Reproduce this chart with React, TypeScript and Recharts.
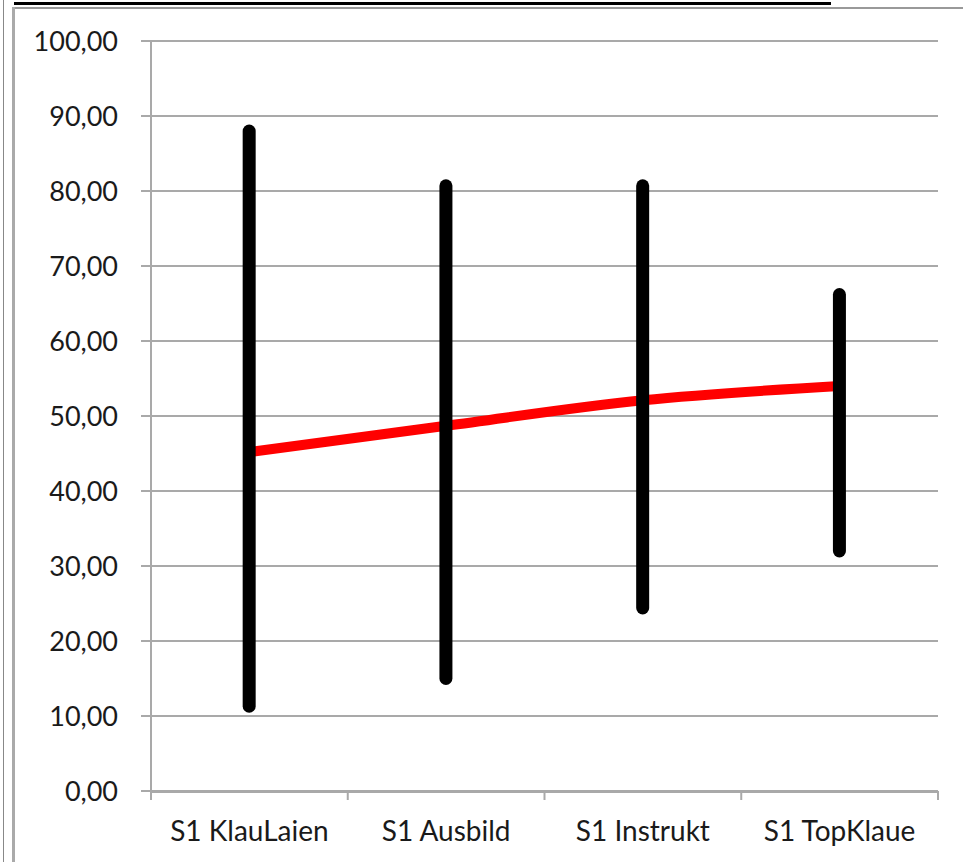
import React from 'react';
import { ComposedChart, Bar, Line, XAxis, YAxis, CartesianGrid } from 'recharts';

const CATEGORIES = ['S1 KlauLaien', 'S1 Ausbild', 'S1 Instrukt', 'S1 TopKlaue'];
const LOW = [11.3, 15.0, 24.4, 32.0];
const HIGH = [88.0, 80.7, 80.7, 66.2];
const MEAN = [45.2, 48.7, 52.1, 54.0];
const Y_TICKS = [0, 10, 20, 30, 40, 50, 60, 70, 80, 90, 100];
const BOUNDARY_TICKS = [0, 1, 2, 3, 4];

const data = CATEGORIES.map((name, i) => ({
  name,
  pos: i + 0.5,
  range: [LOW[i], HIGH[i]],
  mean: MEAN[i],
}));

const GREY = '#a9a9a9';
const FONT = 'Lato, "Open Sans", sans-serif';

const HighLow = (props: any) => {
  const { x, y, width, height } = props;
  const cx = x + width / 2;
  return (
    <line x1={cx} x2={cx} y1={y} y2={y + height} stroke="#000" strokeWidth={13} strokeLinecap="round" />
  );
};

const fmt = (v: number) => v.toFixed(2).replace('.', ',');

export default function App() {
  return (
    <div style={{ position: 'absolute', left: 0, top: 0, width: 963, height: 862, background: '#fff', fontFamily: FONT }}>
      {/* frame lines from the screenshot */}
      <div style={{ position: 'absolute', left: 14, top: 2, width: 817, height: 3, background: '#000' }} />
      <div style={{ position: 'absolute', left: 14, top: 7, width: 949, height: 2, background: '#999' }} />
      <div style={{ position: 'absolute', left: 3, top: 0, width: 1, height: 862, background: '#888' }} />
      <div style={{ position: 'absolute', left: 12, top: 7, width: 3, height: 855, background: '#aaa' }} />
      <ComposedChart
        width={963}
        height={862}
        data={data}
        margin={{ top: 41, right: 25, bottom: 10, left: 0 }}
        style={{ position: 'absolute', left: 0, top: 0 }}
      >
        <CartesianGrid vertical={false} stroke={GREY} strokeWidth={2} xAxisId="cat" />
        <XAxis
          xAxisId="b"
          type="number"
          dataKey="pos"
          domain={[0, 4]}
          ticks={BOUNDARY_TICKS}
          tick={() => <g />}
          tickSize={9}
          height={1}
          axisLine={false}
          stroke={GREY}
          tickLine={{ stroke: GREY, strokeWidth: 2 }}
        />
        <XAxis
          xAxisId="cat"
          dataKey="name"
          height={60}
          tickLine={false}
          tickSize={0}
          tickMargin={29}
          axisLine={{ stroke: GREY, strokeWidth: 2 }}
          tick={{ fill: '#1a1a1a', fontSize: 28, fontFamily: FONT }}
        />
        <YAxis
          width={151}
          domain={[0, 100]}
          ticks={Y_TICKS}
          tickFormatter={fmt}
          tickSize={10}
          tickMargin={23}
          axisLine={{ stroke: GREY, strokeWidth: 2 }}
          tickLine={{ stroke: GREY, strokeWidth: 2 }}
          tick={{ fill: '#1a1a1a', fontSize: 27, fontFamily: FONT }}
        />
        <Line
          xAxisId="cat"
          dataKey="mean"
          type="monotone"
          stroke="#ff0000"
          strokeWidth={10}
          dot={false}
          activeDot={false}
          isAnimationActive={false}
        />
        <Bar
          xAxisId="cat"
          dataKey="range"
          shape={HighLow}
          zIndex={700}
          isAnimationActive={false}
        />
      </ComposedChart>
    </div>
  );
}
